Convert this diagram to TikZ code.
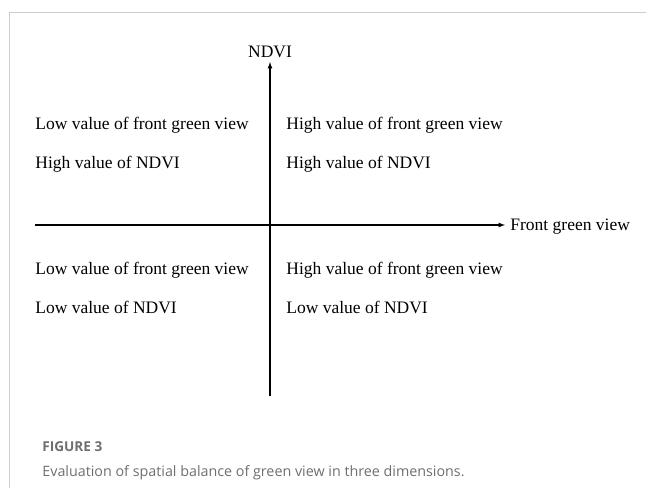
\documentclass[tikz,border=0pt]{standalone}
\usepackage{fontspec}
\setmainfont{Liberation Serif}
\newfontfamily\capfont{Open Sans}
\usetikzlibrary{positioning}
\definecolor{framegray}{RGB}{205,205,205}
\definecolor{capgray}{RGB}{110,110,110}

\begin{document}
\begin{tikzpicture}[
	x = 1pt, y = -1pt, thick,
	axis/.style = {draw, line width = 1.2pt, -latex},
	quad/.style = {anchor = base west, inner sep = 0pt, font = \fontsize{17.5}{20}\selectfont},
	axislabel/.style = {inner sep = 0pt, font = \fontsize{17.5}{20}\selectfont},
	captext/.style = {anchor = base west, inner sep = 0pt, text = capgray}
	]
	\useasboundingbox (0,0) rectangle (646,488);
	% frame
	\draw[framegray, line width = 1pt] (9,488) -- (9,12) -- (646,12);
	% axes
	\coordinate (xs) at (35,225);
	\coordinate (xe) at (505,225);
	\coordinate (ys) at (270,396);
	\coordinate (ye) at (270,62);
	\draw[axis] (xs) -- (xe);
	\draw[axis] (ys) -- (ye);
	\node[axislabel, anchor = base west] (xl) at (510,230) {Front green view};
	\node[axislabel, anchor = base] (yl) at (270,57) {NDVI};
	% quadrants
	\node[quad] (tl1) at (35,129) {Low value of front green view};
	\node[quad] (tl2) at (35,168) {High value of NDVI};
	\node[quad] (tr1) at (286,129) {High value of front green view};
	\node[quad] (tr2) at (286,168) {High value of NDVI};
	\node[quad] (bl1) at (35,274) {Low value of front green view};
	\node[quad] (bl2) at (35,313) {Low value of NDVI};
	\node[quad] (br1) at (286,274) {High value of front green view};
	\node[quad] (br2) at (286,313) {Low value of NDVI};
	% caption
	\node[captext, font = \capfont\bfseries\fontsize{13.6}{16}\selectfont] (fig) at (42,451) {FIGURE 3};
	\node[captext, font = \capfont\fontsize{14.3}{17}\selectfont] (cap) at (42,476) {Evaluation of spatial balance of green view in three dimensions.};
\end{tikzpicture}
\end{document}
